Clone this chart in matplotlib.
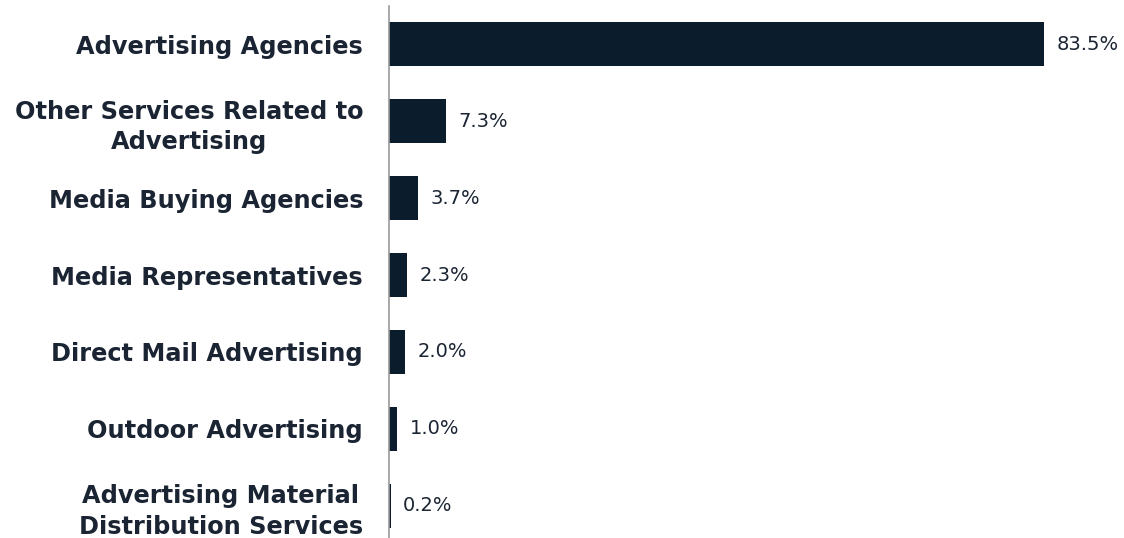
import matplotlib
matplotlib.use("Agg")
import matplotlib.pyplot as plt
from matplotlib.transforms import ScaledTranslation

categories = [
    "Advertising Agencies",
    "Other Services Related to\nAdvertising",
    "Media Buying Agencies",
    "Media Representatives",
    "Direct Mail Advertising",
    "Outdoor Advertising",
    "Advertising Material\nDistribution Services",
]
values = [83.5, 7.3, 3.7, 2.3, 2.0, 1.0, 0.2]
value_labels = ["83.5%", "7.3%", "3.7%", "2.3%", "2.0%", "1.0%", "0.2%"]

bar_color = "#0b1c2c"
text_color = "#1a2433"

fig = plt.figure(figsize=(11.24, 5.38), dpi=100)
ax = fig.add_axes([389 / 1124, 0.0, 1 - 389 / 1124, (538 - 6) / 538])

y = list(range(len(categories)))
ax.barh(y, values, height=0.57, color=bar_color)
ax.set_xlim(0, 93.75)
ax.set_ylim(6.416, -0.494)

for yi, v, lab in zip(y, values, value_labels):
    ax.text(v + 1.6, yi, lab, va="center", ha="left", fontsize=14,
            color=text_color, family="DejaVu Sans")

ax.set_yticks(y)
ax.set_yticklabels(categories, fontsize=17.3, fontweight="bold",
                   color=text_color, family="DejaVu Sans", linespacing=1.35)
shift = ScaledTranslation(0, 3 / 100, fig.dpi_scale_trans)
for lbl in ax.get_yticklabels():
    lbl.set_horizontalalignment("right")
    lbl.set_multialignment("center")
    lbl.set_transform(lbl.get_transform() + shift)
ax.tick_params(axis="y", length=0, pad=18.7)
ax.set_xticks([])

for s in ["top", "right", "bottom"]:
    ax.spines[s].set_visible(False)
ax.spines["left"].set_color("#9a9a9a")
ax.spines["left"].set_linewidth(1.2)

fig.savefig("out.png", dpi=100)
